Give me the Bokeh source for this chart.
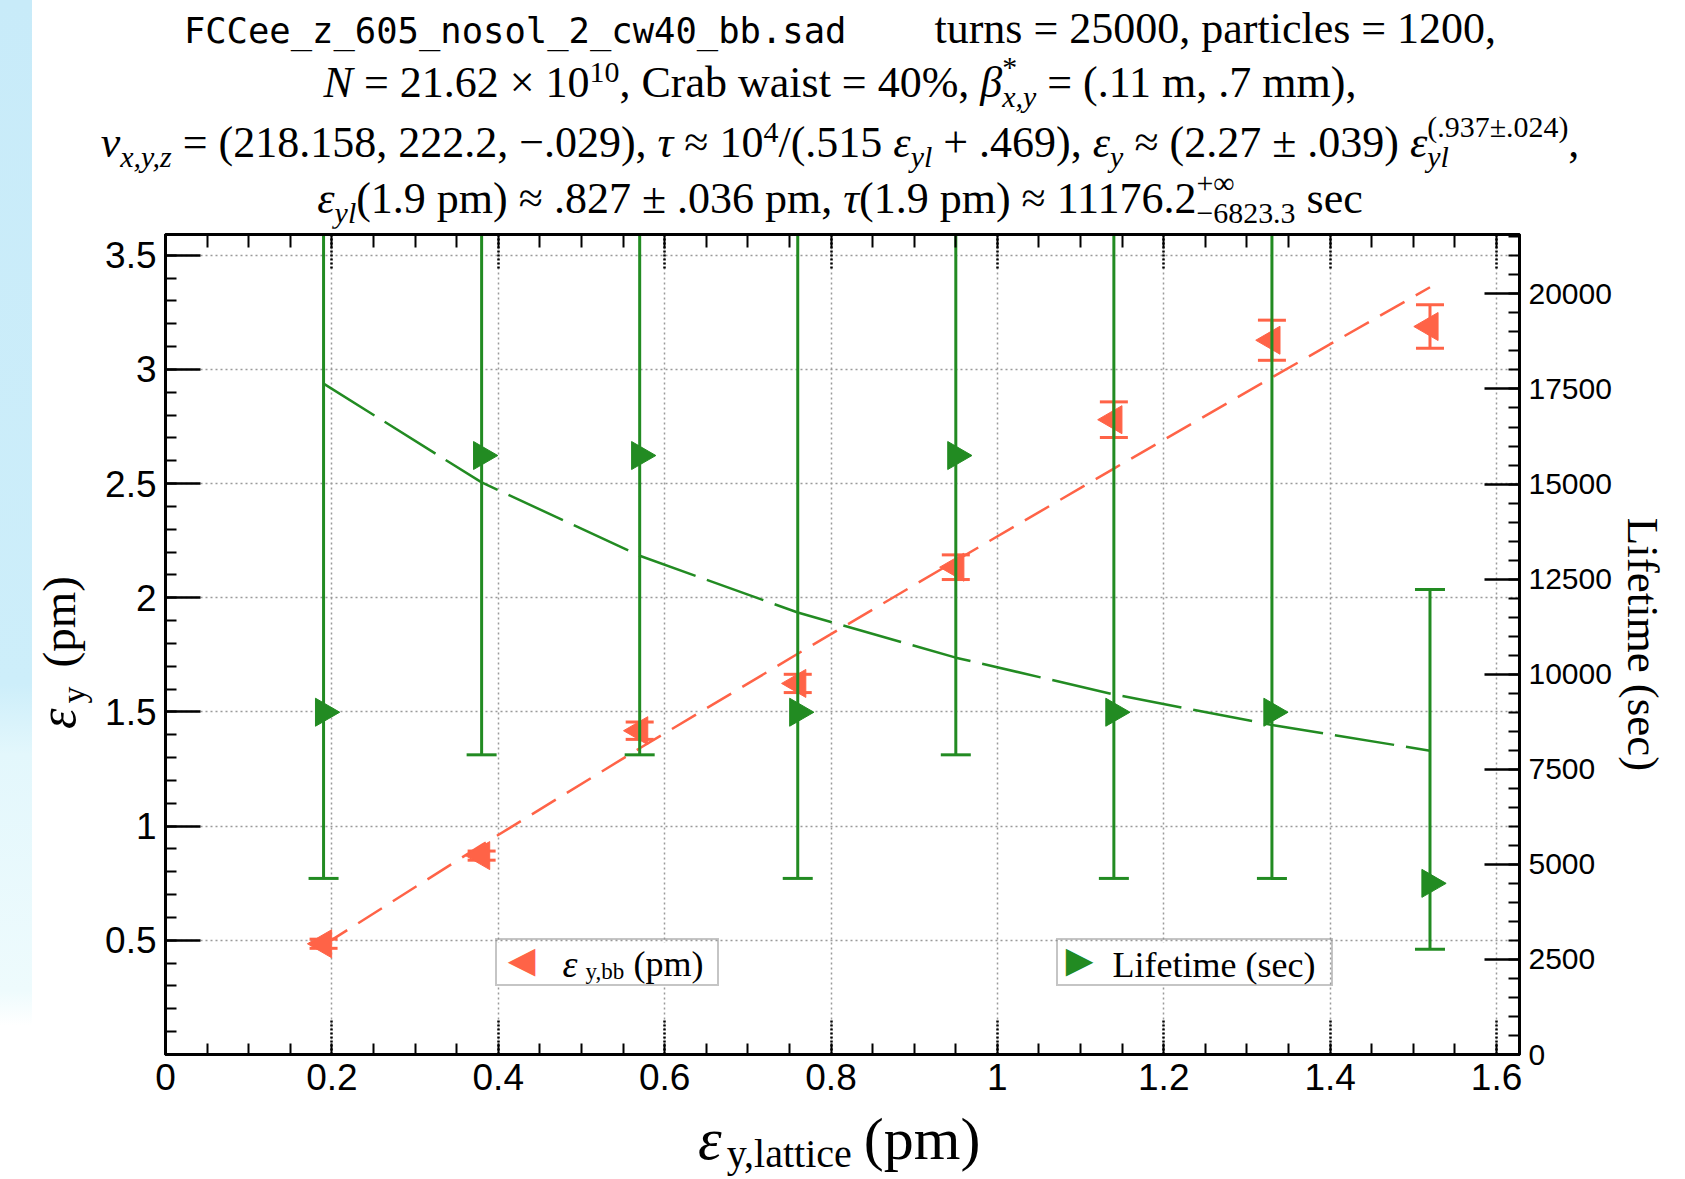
import math
from bokeh.plotting import figure
from bokeh.models import (Range1d, LinearAxis, FixedTicker, ColumnDataSource,
                          Label, Legend, LegendItem, Div, BoxAnnotation)
from bokeh.layouts import row, column
from bokeh.embed import file_html
from bokeh.resources import INLINE

# ---------------- data ----------------
eps_lattice = [0.19, 0.38, 0.57, 0.76, 0.95, 1.14, 1.33, 1.52]
eps_bb = [0.485, 0.871, 1.418, 1.625, 2.134, 2.780, 3.128, 3.188]
eps_bb_err = [0.02, 0.02, 0.038, 0.04, 0.054, 0.078, 0.088, 0.095]
eps_fit = [0.479, 0.917, 1.341, 1.755, 2.163, 2.566, 2.965, 3.360]

lifetime = [9000, 15750, 15750, 9000, 15750, 9000, 9000, 4500]
lifetime_lower = [4630, 7880, 7880, 4630, 7880, 4630, 4630, 2765]
lifetime_upper = [21562, 21562, 21562, 21562, 21562, 21562, 21562, 12230]
lifetime_fit = [17640, 15044, 13114, 11622, 10435, 9469, 8666, 7988]

x_ticks = [0, 0.2, 0.4, 0.6, 0.8, 1.0, 1.2, 1.4, 1.6]
x_tick_labels = ["0", "0.2", "0.4", "0.6", "0.8", "1", "1.2", "1.4", "1.6"]
y_ticks = [0.5, 1.0, 1.5, 2.0, 2.5, 3.0, 3.5]
y_tick_labels = ["0.5", "1", "1.5", "2", "2.5", "3", "3.5"]
y2_ticks = [0, 2500, 5000, 7500, 10000, 12500, 15000, 17500, 20000]
y2_tick_labels = ["0", "2500", "5000", "7500", "10000", "12500", "15000", "17500", "20000"]

RED = "#ff6347"
GREEN = "#228b22"

red_src = ColumnDataSource(dict(
    x=eps_lattice, y=eps_bb,
    lo=[v - e for v, e in zip(eps_bb, eps_bb_err)],
    hi=[v + e for v, e in zip(eps_bb, eps_bb_err)],
    fit=eps_fit))
green_src = ColumnDataSource(dict(
    x=eps_lattice, y=lifetime, lo=lifetime_lower, hi=lifetime_upper, fit=lifetime_fit))

# ---------------- figure ----------------
p = figure(width=1583, height=884,
           x_range=Range1d(0, 1.6276), y_range=Range1d(0, 3.591),
           output_backend="svg", toolbar_location=None,
           min_border_left=63, min_border_right=166,
           min_border_top=6, min_border_bottom=58,
           background_fill_color="white", border_fill_color="white",
           outline_line_color="black", outline_line_width=3)
p.extra_y_ranges = {"life": Range1d(0, 21562)}


def style_axis(ax, ticker, overrides, font_size, major_dash=None):
    ax.ticker = ticker
    ax.major_label_overrides = overrides
    ax.major_tick_in = 35
    ax.major_tick_out = 0
    ax.minor_tick_in = 11
    ax.minor_tick_out = 0
    ax.major_tick_line_width = 2.5
    ax.minor_tick_line_width = 2
    ax.major_tick_line_color = "black"
    ax.minor_tick_line_color = "black"
    ax.axis_line_width = 3
    ax.axis_line_color = "black"
    ax.major_label_text_font = "Liberation Sans"
    ax.major_label_text_font_size = font_size
    ax.major_label_text_color = "black"
    if major_dash:
        ax.major_tick_line_dash = major_dash


x_minor = [round(i * 0.05, 2) for i in range(33)]
y_minor = [round(i * 0.1, 1) for i in range(36)]
y2_minor = list(range(0, 21562, 500))

xb = p.xaxis[0]
style_axis(xb, FixedTicker(ticks=x_ticks, minor_ticks=x_minor),
           dict(zip(x_ticks, x_tick_labels)), "37px", major_dash="2 2")
xb.major_label_standoff = 9

yl = p.yaxis[0]
style_axis(yl, FixedTicker(ticks=y_ticks, minor_ticks=y_minor),
           dict(zip(y_ticks, y_tick_labels)), "37px")
yl.major_label_standoff = 9

xt = LinearAxis()
style_axis(xt, FixedTicker(ticks=x_ticks, minor_ticks=x_minor),
           dict(zip(x_ticks, ["" for _ in x_ticks])), "0px", major_dash="2 2")
xt.minor_tick_in = 13
xt.major_label_standoff = 0
p.add_layout(xt, "above")

yr = LinearAxis(y_range_name="life", axis_label="Lifetime (sec)")
style_axis(yr, FixedTicker(ticks=y2_ticks, minor_ticks=y2_minor),
           dict(zip(y2_ticks, y2_tick_labels)), "30px")
yr.major_label_standoff = 9
yr.axis_label_text_font = "Liberation Serif"
yr.axis_label_text_font_size = "45px"
yr.axis_label_text_font_style = "normal"
yr.axis_label_text_color = "black"
yr.axis_label_standoff = 3
p.add_layout(yr, "right")

for g in (p.xgrid[0], p.ygrid[0]):
    g.grid_line_color = "#9a9a9a"
    g.grid_line_dash = "2 3"
    g.grid_line_width = 1.5

# white backgrounds of the two legend boxes (screen px from the frame's bottom-left)
for left, right in ((330, 550), (891, 1164)):
    p.add_layout(BoxAnnotation(left=left, right=right, bottom=68, top=112,
                               left_units="screen", right_units="screen",
                               bottom_units="screen", top_units="screen",
                               fill_color="white", fill_alpha=1.0, line_alpha=0,
                               level="underlay"))

# ---------------- glyphs ----------------
p.line("x", "fit", source=red_src, line_color=RED, line_width=2.5, line_dash="28 13")
p.segment(x0="x", y0="lo", x1="x", y1="hi", source=red_src, line_color=RED, line_width=3)
p.scatter("x", "lo", source=red_src, marker="dash", size=28, line_color=RED, line_width=3)
p.scatter("x", "hi", source=red_src, marker="dash", size=28, line_color=RED, line_width=3)
p.scatter("x", "y", source=red_src, marker="triangle", size=28, angle=math.pi / 2,
          fill_color=RED, line_color=RED)

p.line("x", "fit", source=green_src, y_range_name="life", line_color=GREEN,
       line_width=2.5, line_dash="60 12")
p.segment(x0="x", y0="lo", x1="x", y1="hi", source=green_src, y_range_name="life",
          line_color=GREEN, line_width=3)
p.scatter("x", "lo", source=green_src, y_range_name="life", marker="dash", size=30,
          line_color=GREEN, line_width=3)
p.scatter("x", "hi", source=green_src, y_range_name="life", marker="dash", size=30,
          line_color=GREEN, line_width=3)
p.scatter("x", "y", source=green_src, y_range_name="life", marker="triangle", size=28,
          angle=-math.pi / 2, fill_color=GREEN, line_color=GREEN)

# invisible renderers used only to carry the legend boxes
dummy_red = p.scatter(x=[], y=[], fill_alpha=0, line_alpha=0)
dummy_green = p.scatter(x=[], y=[], fill_alpha=0, line_alpha=0)


def make_legend(renderer, loc, label_width):
    return Legend(items=[LegendItem(label=" ", renderers=[renderer])],
                  location=loc, orientation="vertical",
                  border_line_color="#8c8c8c", border_line_width=2,
                  background_fill_alpha=0.0,
                  padding=4, margin=0, spacing=0,
                  glyph_width=38, glyph_height=36, label_standoff=14,
                  label_width=label_width, label_height=36,
                  label_text_font="Liberation Serif", label_text_font_size="36px",
                  label_text_color="black")


p.add_layout(make_legend(dummy_red, (330, 68), 160))
p.add_layout(make_legend(dummy_green, (891, 68), 213))


def lab(x, y, text, size, italic=False, color="black",
        font="Liberation Serif", align="left", baseline="alphabetic"):
    p.add_layout(Label(x=x, y=y, x_units="screen", y_units="screen", text=text,
                       text_font=font, text_font_size=f"{size}px",
                       text_font_style="italic" if italic else "normal",
                       text_color=color, text_align=align, text_baseline=baseline,
                       level="overlay"))


# legend markers and legend texts
lab(356, 95, "◀", 36, color=RED, font="DejaVu Sans", align="center", baseline="middle")
lab(914, 95, "▶", 36, color=GREEN, font="DejaVu Sans", align="center", baseline="middle")
lab(397, 91, "ε", 38, italic=True)
lab(420, 83, "y,bb", 23)
lab(468, 91, "(pm)", 36)
lab(947, 90, "Lifetime (sec)", 36)

# ---------------- title and axis titles (HTML) ----------------
SERIF = "font-family:'Liberation Serif';"


def sup(t):
    return f'<span style="position:relative;top:-0.5em;font-size:0.68em;">{t}</span>'


def sub(t):
    return f'<span style="position:relative;top:0.32em;font-size:0.68em;">{t}</span>'


def stack(a, b):
    return ('<span style="display:inline-block;position:relative;top:0.34em;'
            'margin-top:-1.2em;font-size:0.68em;line-height:1.0;text-align:left;'
            'vertical-align:baseline;">'
            f'<span style="display:block;">{a}</span>'
            f'<span style="display:block;">{b}</span></span>')


line1 = ('<span style="font-family:\'DejaVu Sans Mono\';font-size:35.5px;">'
         'FCCee_z_605_nosol_2_cw40_bb.sad</span>&emsp;&emsp;'
         'turns = 25000, particles = 1200,')
line2 = ('<i>N</i> = 21.62 × 10' + sup('10') + ', Crab waist = 40%, <i>β</i>'
         + stack('*', '<i>x,y</i>') + ' = (.11 m, .7 mm),')
line3 = ('<i>ν</i>' + sub('<i>x,y,z</i>') + ' = (218.158, 222.2, −.029), '
         '<i>τ</i> ≈ 10' + sup('4') + '/(.515 <i>ε</i>' + sub('<i>yl</i>')
         + ' + .469), <i>ε</i>' + sub('<i>y</i>') + ' ≈ (2.27 ± .039) <i>ε</i>'
         + stack('(.937±.024)', '<i>yl</i>') + ',')
line4 = ('<i>ε</i>' + sub('<i>yl</i>') + '(1.9 pm) ≈ .827 ± .036 pm, '
         '<i>τ</i>(1.9 pm) ≈ 11176.2' + stack('+∞', '−6823.3') + ' sec')

line_tops = [0, 54, 114, 170]
title_html = (f'<div style="position:relative;width:1653px;height:228px;{SERIF}'
              'font-size:44px;color:#000;">'
              + ''.join(f'<div style="position:absolute;left:0;top:{t}px;width:1616px;'
                        'text-align:center;line-height:57px;white-space:nowrap;">'
                        f'{l}</div>'
                        for t, l in zip(line_tops, (line1, line2, line3, line4)))
              + '</div>')
title_div = Div(text=title_html, width=1653, height=228, margin=0)

left_html = (f'<div style="position:relative;width:70px;height:884px;">'
             f'<div style="position:absolute;left:1px;top:501px;transform:rotate(-90deg);'
             f'transform-origin:0 0;white-space:nowrap;{SERIF}font-size:47px;'
             'line-height:50px;color:#000;">'
             '<i style="font-size:52px;">ε</i>'
             '<span style="font-size:34px;position:relative;top:10px;margin-left:5px;">y</span>'
             '<span style="margin-left:19px;">(pm)</span></div></div>')
left_div = Div(text=left_html, width=70, height=884, margin=0)

bottom_html = (f'<div style="position:relative;width:1653px;height:67px;">'
               f'<div style="position:absolute;left:666px;top:-1px;white-space:nowrap;'
               f'{SERIF}font-size:60px;line-height:56px;color:#000;">'
               '<i>ε</i>'
               '<span style="font-size:40px;position:relative;top:8px;margin-left:5px;">'
               'y,lattice</span>'
               '<span style="margin-left:12px;">(pm)</span></div></div>')
bottom_div = Div(text=bottom_html, width=1653, height=67, margin=0)

strip = Div(text="", width=32, height=1179, margin=0,
            styles={"background": "linear-gradient(180deg, #c8ebf9 0%, #cdeefa 58%, "
                                  "#e3f7fc 64%, #eefbfd 84%, #ffffff 87%, #ffffff 100%)"})

layout = row(strip,
             column(title_div, row(left_div, p, spacing=0), bottom_div, spacing=0),
             spacing=0)

open("out.html", "w").write(file_html(layout, INLINE))
